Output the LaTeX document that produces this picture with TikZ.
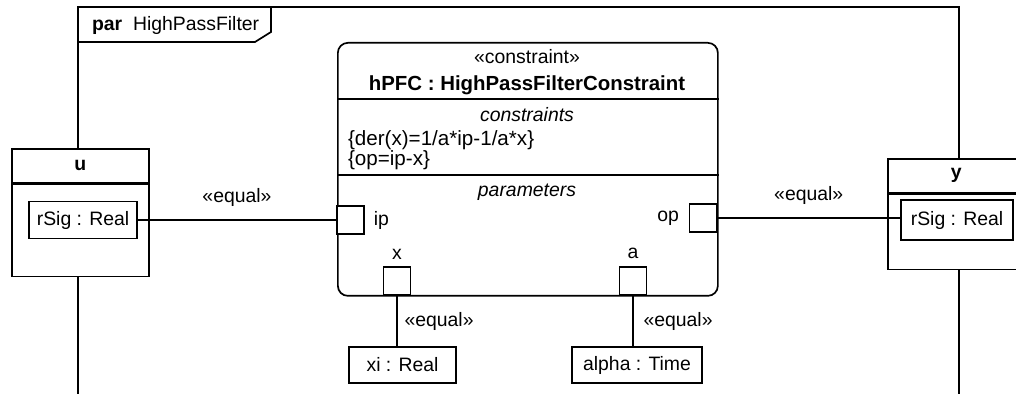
\documentclass[tikz,border=0pt]{standalone}
\usepackage{fontspec}
\setmainfont{Liberation Sans}
\usetikzlibrary{positioning,calc}

\begin{document}
\begin{tikzpicture}[
  x=0.5pt, y=-0.5pt,
  every node/.style={font=\fontsize{9.7}{11}\selectfont},
  ln/.style={line width=0.85pt},
  blk/.style={draw, ln, fill=white, inner sep=0pt, anchor=north west},
  val/.style={draw, ln, fill=white, inner sep=0pt, minimum height=18pt},
  port/.style={draw, ln, fill=white, inner sep=0pt,
               minimum width=13.5pt, minimum height=14pt},
  ital/.style={font=\fontsize{9.7}{11}\selectfont\itshape},
  expr/.style={anchor=west, font=\fontsize{10.3}{12}\selectfont}
]
\useasboundingbox (0,0) rectangle (1016,394);

% diagram frame
\draw[ln] (78,394) -- (78,7) -- (959,7) -- (959,394);
\draw[ln] (78,42) -- (255,42) -- (271,32) -- (271,7);
\node[anchor=west] (title) at (85,25) {\textbf{par}\ \ HighPassFilter};

% blocks u and y
\node[blk, minimum width=68.5pt, minimum height=17pt] (uHead) at (11,148) {\textbf{u}};
\node[blk, minimum width=68.5pt, minimum height=46pt] (uBody) at (uHead.south west) {};
\node[val, minimum width=54pt, minimum height=18.5pt] (uSig) at (83,220) {rSig : Real};

\node[blk, minimum width=68.5pt, minimum height=17pt] (yHead) at (887,158) {\textbf{y}};
\node[blk, minimum width=68.5pt, minimum height=37.5pt] (yBody) at (yHead.south west) {};
\node[val, minimum width=56pt, minimum height=20pt] (ySig) at (957,220) {rSig : Real};

% constraint property
\node[blk, rounded corners=5pt, minimum width=190pt, minimum height=126.5pt] (hpfc) at (337,42) {};
\draw[ln] ($(hpfc.north west)+(0,57)$) -- ($(hpfc.north east)+(0,57)$);
\draw[ln] ($(hpfc.north west)+(0,133)$) -- ($(hpfc.north east)+(0,133)$);
\node (stereo) at (527,57) {«constraint»};
\node[font=\fontsize{10.2}{12}\selectfont\bfseries] (hName) at (527,85) {hPFC : HighPassFilterConstraint};
\node[ital] (cHead) at (527,115) {constraints};
\node[expr] (eqDer) at (341,140) {\{der(x)=1/a*ip-1/a*x\}};
\node[expr] (eqOp) at (341,160) {\{op=ip-x\}};
\node[ital] (pHead) at (527,192) {parameters};

% parameters
\node[port] (ip) at (350.5,220) {};
\node[port] (op) at (703,218) {};
\node[port] (px) at (397,281) {};
\node[port] (pa) at (633,281) {};
\node[right=1pt of ip] (ipLbl) {ip};
\node[left=1.3pt of op] (opLbl) {op};
\node[above=0pt of px] (xLbl) {x};
\node[above=0pt of pa] (aLbl) {a};

\node[val, minimum width=53.5pt] (xi) at (402.5,365) {xi : Real};
\node[val, minimum width=65pt] (alpha) at (637,365) {alpha : Time};

% binding connectors
\draw[ln] (uSig) -- (ip) node[midway, above=3pt] {«equal»};
\draw[ln] (op) -- (op -| ySig.west) node[midway, above=3pt] {«equal»};
\draw[ln] (px) -- (px |- xi.north) node[midway, right=0pt] {«equal»};
\draw[ln] (pa) -- (pa |- alpha.north) node[midway, right=1.5pt] {«equal»};
\end{tikzpicture}
\end{document}
